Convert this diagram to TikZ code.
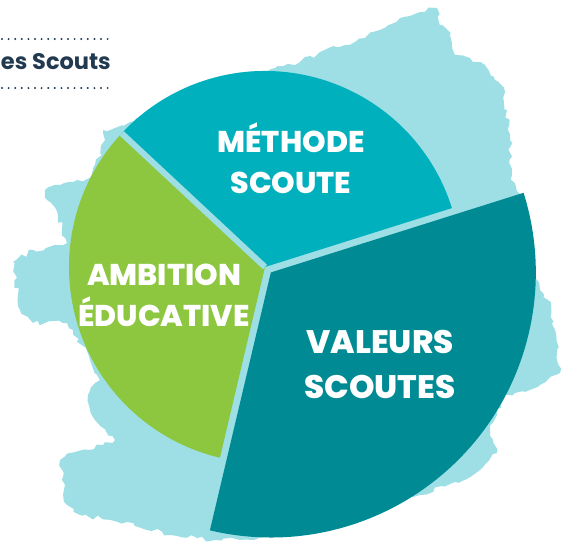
\documentclass[tikz,border=0pt]{standalone}
\usepackage{fontspec}
\setmainfont{Poppins}[BoldFont={Poppins ExtraBold}]
\newfontfamily\headfont{Poppins}[UprightFont={* Bold}]
\usetikzlibrary{calc,decorations.pathmorphing}
\definecolor{methodec}{HTML}{00B0BD}
\definecolor{valeursc}{HTML}{008B94}
\definecolor{ambitionc}{HTML}{8DC63F}
\definecolor{brushc}{HTML}{9DDFE5}
\definecolor{navyc}{HTML}{223A50}
\tikzset{
  sectorlabel/.style={text=white, align=center, font=\bfseries\fontsize{30}{41}\selectfont, inner sep=0pt},
  biglabel/.style={text=white, align=center, font=\bfseries\fontsize{32.5}{45}\selectfont, inner sep=0pt},
  gapline/.style={draw=brushc, line width=6pt},
  dotline/.style={draw=navyc, line width=2.2pt, line cap=round, dash pattern=on 0pt off 6.6pt},
  brush/.style={fill=brushc, decorate, decoration={random steps, segment length=5pt, amplitude=2.5pt}},
}
\begin{document}
\begin{tikzpicture}[x=1pt,y=1pt,yscale=-1]
\useasboundingbox (0,0) rectangle (565,546);
% brush background
\fill[brush] (250,85) -- (275,68) -- (300,62) -- (320,52) -- (345,45) -- (365,38) -- (380,30)
  -- (400,18) -- (420,12) -- (437,8) -- (442,25) -- (450,35) -- (455,55) -- (470,58) -- (485,65)
  -- (495,80) -- (505,92) -- (507,110) -- (510,140) -- (512,175) -- (520,200) -- (540,290)
  -- (548,300) -- (555,330) -- (560,373) -- (540,385) -- (503,397) -- (490,430) -- (497,453)
  -- (480,470) -- (455,482) -- (420,495) -- (300,530) -- (240,540) -- (215,540) -- (170,535)
  -- (127,522) -- (80,515) -- (67,505) -- (62,480) -- (60,460) -- (75,452) -- (103,445)
  -- (115,440) -- (95,420) -- (88,395) -- (100,380) -- (90,360) -- (73,330) -- (67,323)
  -- (33,323) -- (20,310) -- (13,262) -- (33,250) -- (67,243) -- (62,230) -- (58,215)
  -- (47,200) -- (45,190) -- (60,185) -- (77,180) -- (90,178) -- (95,165) -- (105,140)
  -- (103,130) -- (115,128) -- (130,122) -- (180,100) -- cycle;
% pie
\coordinate (C) at (265,267);
\coordinate (V) at ($(C)+(43:8)$);
\fill[brushc] (C) circle[radius=196];
\fill[methodec] (C) -- ++(-17.5:196) arc[start angle=-17.5, end angle=-137, radius=196] -- cycle;
\fill[ambitionc] (C) -- ++(-137:196) arc[start angle=-137, end angle=-256.7, radius=196] -- cycle;
\fill[valeursc] (V) -- ++(-256.7:265) arc[start angle=-256.7, end angle=-377.5, radius=265] -- cycle;
\coordinate (G) at ($(C)+(-137:196)$);
\draw[gapline] (C) -- (G);
% labels
\node[sectorlabel] (methode) at (291,158) {MÉTHODE\\SCOUTE};
\node[sectorlabel] (ambition) at (164,295) {AMBITION\\ÉDUCATIVE};
\node[biglabel] (valeurs) at (380,364) {VALEURS\\SCOUTES};
% header
\node[anchor=east, text=navyc, font=\headfont\fontsize{22.5}{26}\selectfont, inner sep=0pt] (header) at (111,62) {es Scouts};
\coordinate (d1a) at (2,39); \coordinate (d1b) at (113,39);
\coordinate (d2a) at (2,88); \coordinate (d2b) at (113,88);
\draw[dotline] (d1a) -- (d1b);
\draw[dotline] (d2a) -- (d2b);
\end{tikzpicture}
\end{document}
